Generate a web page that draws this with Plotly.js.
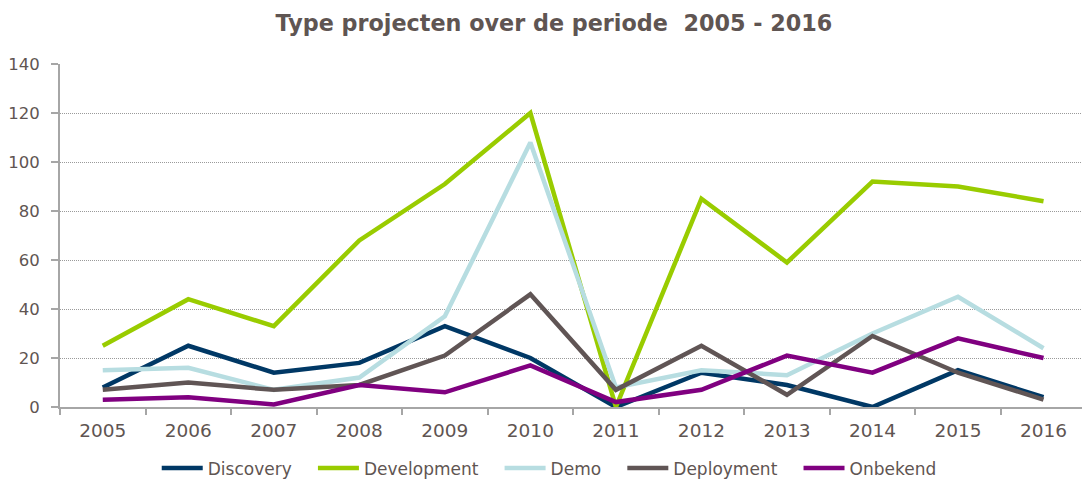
<!DOCTYPE html>
<html>
<head>
<meta charset="utf-8">
<script src="https://cdn.plot.ly/plotly-3.0.1.min.js"></script>
<style>html,body{margin:0;padding:0;background:#fff;}#chart{width:1082px;height:482px;}</style>
</head>
<body>
<div id="chart"></div>
<script>
const years = ['2005','2006','2007','2008','2009','2010','2011','2012','2013','2014','2015','2016'];
const discovery   = [8, 25, 14, 18, 33, 20, 0, 14, 9, 0, 15, 4];
const development = [25, 44, 33, 68, 91, 120, 0, 85, 59, 92, 90, 84];
const demo        = [15, 16, 7, 12, 37, 108, 8, 15, 13, 30, 45, 24];
const deployment  = [7, 10, 7, 9, 21, 46, 7, 25, 5, 29, 14, 3];
const onbekend    = [3, 4, 1, 9, 6, 17, 2, 7, 21, 14, 28, 20];
const seriesNames = ['Discovery', 'Development', 'Demo', 'Deployment', 'Onbekend'];
const yTicks = [0, 20, 40, 60, 80, 100, 120, 140];

const seriesValues = [discovery, development, demo, deployment, onbekend];
const seriesColors = ['#003865', '#99cc00', '#b7dde1', '#605555', '#800080'];
const textColor = '#5f5552';
const pad = '\u00a0\u00a0\u00a0';
const data = seriesNames.map((n, i) => ({
  type: 'scatter', mode: 'lines', name: n + pad, x: years, y: seriesValues[i],
  line: {color: seriesColors[i], width: 4.5}, hovertemplate: n + ': %{y}<extra></extra>'
}));
const layout = {
  width: 1082, height: 482,
  margin: {l: 60, r: 0, t: 64, b: 75},
  paper_bgcolor: '#ffffff', plot_bgcolor: '#ffffff',
  font: {family: 'DejaVu Sans, Verdana, sans-serif', color: textColor, size: 17},
  title: {text: '<b>Type projecten over de periode  2005 - 2016</b>', x: 0.512, xanchor: 'center', xref: 'container',
          y: 0.952, yanchor: 'middle', yref: 'container',
          font: {size: 22.3, color: textColor, family: 'DejaVu Sans, Verdana, sans-serif'}},
  xaxis: {type: 'category', range: [-0.5, 11.45], tickson: 'boundaries', ticks: 'outside', ticklen: 6, tickcolor: '#a6a6a6',
          tickwidth: 2, showline: true, linecolor: '#a6a6a6', linewidth: 2, showgrid: false, zeroline: false,
          tickfont: {size: 18.5, color: textColor}, ticklabelstandoff: 6, fixedrange: true},
  yaxis: {range: [0, 140], tickvals: yTicks, ticks: 'outside', ticklen: 7, tickcolor: '#a6a6a6', tickwidth: 2,
          showline: true, linecolor: '#a6a6a6', linewidth: 2, showgrid: true, gridcolor: '#9a9a9a',
          griddash: '1px,1px', gridwidth: 1, zeroline: false, tickfont: {size: 16.5, color: textColor},
          ticklabelstandoff: 8, fixedrange: true},
  showlegend: true,
  legend: {orientation: 'h', x: 0.515, xref: 'container', xanchor: 'center', y: 0.028, yref: 'container', yanchor: 'middle',
           font: {size: 17, color: textColor}, tracegroupgap: 0, itemwidth: 41}
};
Plotly.newPlot('chart', data, layout, {displayModeBar: false});
</script>
</body>
</html>
